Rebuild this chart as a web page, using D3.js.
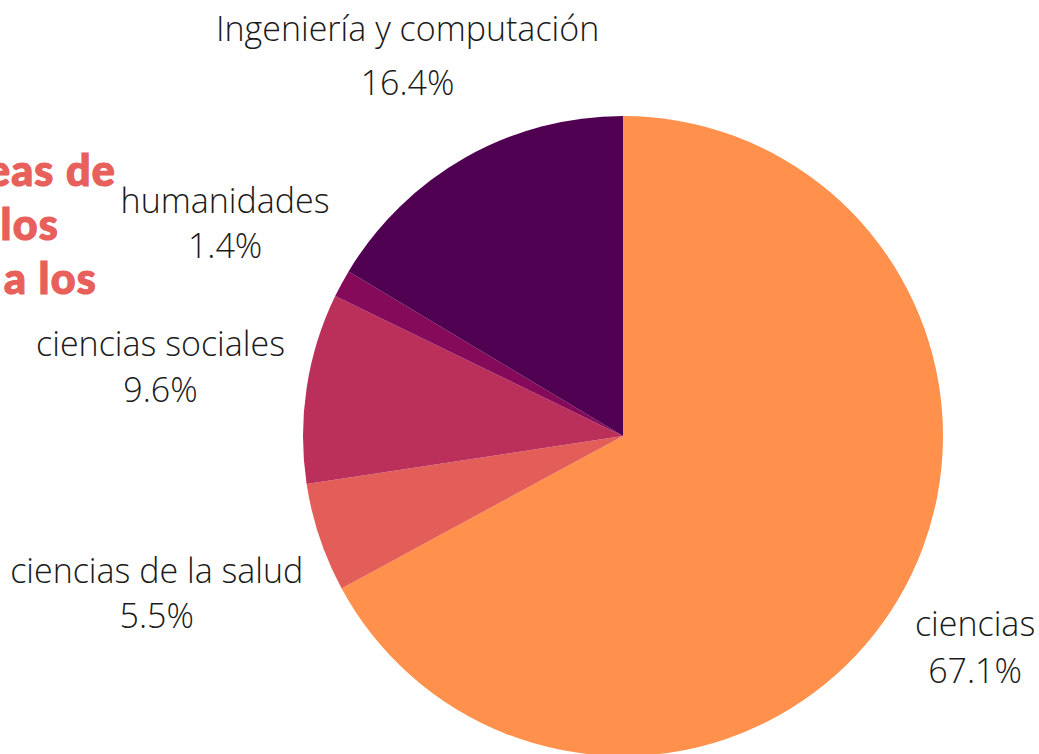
<!DOCTYPE html>
<html><head><meta charset="utf-8">
<script src="https://cdn.jsdelivr.net/npm/d3@7"></script>
<style>
html,body{margin:0;padding:0;background:#fff;overflow:hidden;}
svg{display:block;}
</style></head>
<body>
<script>
const categories = ["ciencias", "ciencias de la salud", "ciencias sociales", "humanidades", "Ingeniería y computación"];
const values = [67.1, 5.5, 9.6, 1.4, 16.4];
const colors = ["#ff914d", "#e35d59", "#bb2f5b", "#850b5a", "#4f0050"];
const titleLines = ["Áreas de", "los", "a los"];

// layout (label distance from centre, angle nudge in degrees, line gap, baseline shift)
const labelRadius = [416, 496, 466, 446, 428];
const labelAngleNudge = [1.4, -1.4, -1.6, -1.6, -0.7];
const labelGap = [47, 45, 46, 45, 54];
const labelShift = [1.5, 0, 0, 1, 2];

const W = 1039, H = 754, cx = 623, cy = 436, R = 320;
const svg = d3.select("body").append("svg").attr("width", W).attr("height", H);

const pie = d3.pie().sort(null).value(d => d)(values);
const arc = d3.arc().innerRadius(0).outerRadius(R);
const g = svg.append("g").attr("transform", `translate(${cx},${cy})`);
g.selectAll("path").data(pie).join("path")
  .attr("d", arc).attr("fill", (d, i) => colors[i]);

const fmt = d3.format(".1f");
pie.forEach((d, i) => {
  const a = (d.startAngle + d.endAngle) / 2 + labelAngleNudge[i] * Math.PI / 180;
  const x = Math.sin(a) * labelRadius[i];
  const y = -Math.cos(a) * labelRadius[i];
  const t = g.append("text").attr("text-anchor", "middle")
    .attr("font-family", "'Open Sans', sans-serif").attr("font-weight", 300)
    .attr("font-size", 34).attr("fill", "#1a1a1a");
  t.append("tspan").attr("x", x).attr("y", y - labelGap[i] / 2 + labelShift[i]).text(categories[i]);
  t.append("tspan").attr("x", x).attr("y", y + labelGap[i] / 2 + labelShift[i]).text(fmt(values[i]) + "%");
});

const titleRight = [116, 59, 97];
titleLines.forEach((s, i) => {
  svg.append("text").attr("x", titleRight[i]).attr("y", 186 + i * 54)
    .attr("text-anchor", "end")
    .attr("font-family", "Lato, sans-serif").attr("font-weight", 900)
    .attr("font-size", 43).attr("letter-spacing", 1.2)
    .attr("fill", "#e8605b").attr("stroke", "#e8605b").attr("stroke-width", 1.2)
    .text(s);
});
</script>
</body></html>
